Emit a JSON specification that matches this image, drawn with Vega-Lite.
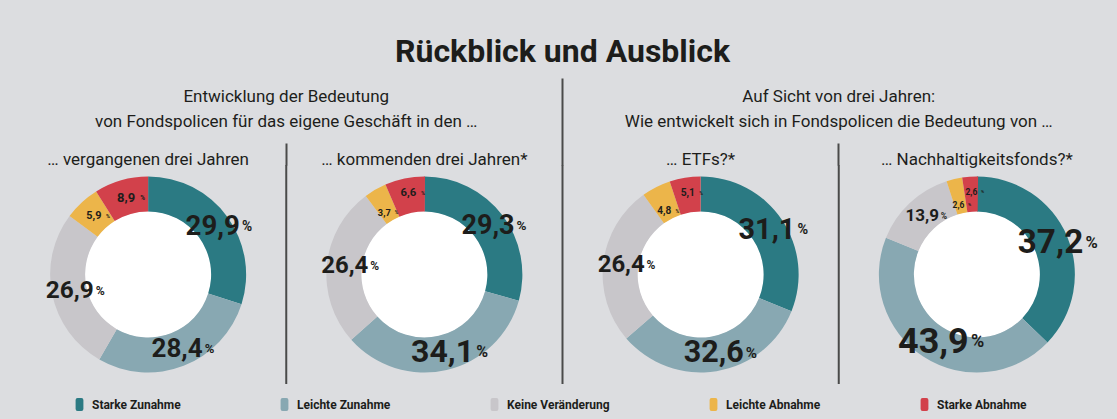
{
  "$schema": "https://vega.github.io/schema/vega-lite/v6.json",
  "width": 1117,
  "height": 419,
  "autosize": {"type": "fit", "contains": "padding"},
  "padding": {"top": 36, "left": 10, "right": 2, "bottom": 8},
  "background": "#dcdde0",
  "config": {
    "view": {"stroke": null},
    "locale": {"number": {"decimal": ",", "thousands": ".", "grouping": [3], "currency": ["", " €"]}},
    "font": "Roboto"
  },
  "title": {
    "text": "Rückblick und Ausblick",
    "font": "Roboto",
    "fontSize": 32,
    "fontWeight": "bold",
    "color": "#1d1d1b",
    "anchor": "middle",
    "offset": 8
  },
  "datasets": {
    "shares": [
      {"chart": "… vergangenen drei Jahren", "cat": "Starke Zunahme", "k": 1, "value": 29.9},
      {"chart": "… vergangenen drei Jahren", "cat": "Leichte Zunahme", "k": 2, "value": 28.4},
      {"chart": "… vergangenen drei Jahren", "cat": "Keine Veränderung", "k": 3, "value": 26.9},
      {"chart": "… vergangenen drei Jahren", "cat": "Leichte Abnahme", "k": 4, "value": 5.9},
      {"chart": "… vergangenen drei Jahren", "cat": "Starke Abnahme", "k": 5, "value": 8.9},
      {"chart": "… kommenden drei Jahren*", "cat": "Starke Zunahme", "k": 1, "value": 29.3},
      {"chart": "… kommenden drei Jahren*", "cat": "Leichte Zunahme", "k": 2, "value": 34.1},
      {"chart": "… kommenden drei Jahren*", "cat": "Keine Veränderung", "k": 3, "value": 26.4},
      {"chart": "… kommenden drei Jahren*", "cat": "Leichte Abnahme", "k": 4, "value": 3.7},
      {"chart": "… kommenden drei Jahren*", "cat": "Starke Abnahme", "k": 5, "value": 6.6},
      {"chart": "… ETFs?*", "cat": "Starke Zunahme", "k": 1, "value": 31.1},
      {"chart": "… ETFs?*", "cat": "Leichte Zunahme", "k": 2, "value": 32.6},
      {"chart": "… ETFs?*", "cat": "Keine Veränderung", "k": 3, "value": 26.4},
      {"chart": "… ETFs?*", "cat": "Leichte Abnahme", "k": 4, "value": 4.8},
      {"chart": "… ETFs?*", "cat": "Starke Abnahme", "k": 5, "value": 5.1},
      {"chart": "… Nachhaltigkeitsfonds?*", "cat": "Starke Zunahme", "k": 1, "value": 37.2},
      {"chart": "… Nachhaltigkeitsfonds?*", "cat": "Leichte Zunahme", "k": 2, "value": 43.9},
      {"chart": "… Nachhaltigkeitsfonds?*", "cat": "Keine Veränderung", "k": 3, "value": 13.9},
      {"chart": "… Nachhaltigkeitsfonds?*", "cat": "Leichte Abnahme", "k": 4, "value": 2.6},
      {"chart": "… Nachhaltigkeitsfonds?*", "cat": "Starke Abnahme", "k": 5, "value": 2.6}
    ],
    "charts": [
      {"chart": "… vergangenen drei Jahren"},
      {"chart": "… kommenden drei Jahren*"},
      {"chart": "… ETFs?*"},
      {"chart": "… Nachhaltigkeitsfonds?*"}
    ],
    "separators": [
      {"chart": "… vergangenen drei Jahren"},
      {"chart": "… ETFs?*"}
    ],
    "groups": [
      {"group": "g1"}
    ]
  },
  "resolve": {"scale": {"x": "independent"}, "axis": {"x": "independent"}},
  "layer": [
    {
      "encoding": {
        "x": {"field": "chart", "type": "nominal", "sort": null,
          "scale": {"type": "band", "domain": ["… vergangenen drei Jahren", "… kommenden drei Jahren*", "… ETFs?*", "… Nachhaltigkeitsfonds?*"], "paddingInner": 0, "paddingOuter": 0},
          "axis": {"orient": "top", "title": null, "domain": false, "ticks": false, "grid": false, "labelAngle": 0, "labelFont": "Roboto", "labelFontSize": 17, "labelColor": "#1d1d1b", "labelPadding": -3, "labelLimit": 0, "labelOverlap": false}}
      },
      "layer": [
        {
          "data": {"name": "charts"},
          "mark": {"type": "point", "shape": "circle", "size": 16000, "filled": true, "fill": "#ffffff", "opacity": 1, "strokeWidth": 0}
        },
        {
          "data": {"name": "shares"},
          "transform": [{"stack": "value", "groupby": ["chart"], "sort": [{"field": "k", "order": "ascending"}], "as": ["v0", "v1"]}],
          "mark": {"type": "arc", "innerRadius": 63, "outerRadius": 98, "stroke": null},
          "encoding": {
            "theta": {"field": "v0", "type": "quantitative", "scale": {"domain": [0, 100]}},
            "theta2": {"field": "v1"},
            "color": {"field": "cat", "type": "nominal",
              "scale": {"domain": ["Starke Zunahme", "Leichte Zunahme", "Keine Veränderung", "Leichte Abnahme", "Starke Abnahme"],
                        "range": ["#2b7a83", "#88a8b2", "#c8c6ca", "#ecb54a", "#d2414b"]},
              "legend": {"orient": "bottom", "direction": "horizontal", "title": " ", "titleOrient": "left", "titlePadding": 63,
                "symbolType": "M-0.6,-0.7Q-0.6,-1 -0.3,-1H0.3Q0.6,-1 0.6,-0.7V0.7Q0.6,1 0.3,1H-0.3Q-0.6,1 -0.6,0.7Z", "symbolSize": 169, "symbolStrokeWidth": 0,
                "labelFont": "Roboto", "labelFontSize": 12, "labelFontWeight": "bold", "labelColor": "#1d1d1b",
                "columnPadding": 97, "offset": 14, "labelOffset": 6}}
          }
        },
        {
          "data": {"name": "shares"},
          "mark": {"type": "text", "font": "Roboto", "fontWeight": "bold", "color": "#1d1d1b", "align": "center", "baseline": "middle",
            "dy": {"expr": "datum.k == 4 && datum.value < 5 ? 8 : (datum.k == 5 && datum.value < 7 ? -3 : 0)"}},
          "encoding": {
            "theta": {"field": "value", "type": "quantitative", "stack": true},
            "radius": {"field": "chart", "type": "nominal", "scale": {"type": "point", "range": [80, 80]}},
            "order": {"field": "k", "type": "quantitative"},
            "text": {"field": "value", "type": "quantitative", "format": ".1f"},
            "size": {"field": "value", "type": "quantitative", "scale": {"domain": [2.6, 8.9, 13.9, 26.5, 34, 44], "range": [8.5, 13, 17, 24, 32, 36]}, "legend": null}
          }
        },
        {
          "data": {"name": "shares"},
          "mark": {"type": "text", "font": "Roboto", "fontWeight": "bold", "color": "#1d1d1b", "align": "left", "baseline": "middle",
            "fontSize": {"expr": "scale('size', datum.value) * 0.5"},
            "dx": {"expr": "scale('size', datum.value) * 1.02 + 1"},
            "dy": {"expr": "datum.k == 4 && datum.value < 5 ? 8 : (datum.k == 5 && datum.value < 7 ? -3 : 0)"}},
          "encoding": {
            "theta": {"field": "value", "type": "quantitative", "stack": true},
            "radius": {"field": "chart", "type": "nominal", "scale": {"type": "point", "range": [80, 80]}},
            "order": {"field": "k", "type": "quantitative"},
            "text": {"value": "%"}
          }
        }
      ]
    },
    {
      "data": {"name": "groups"},
      "mark": {"type": "rule", "color": "#4a4a4a", "strokeWidth": 2},
      "encoding": {
        "x": {"field": "group", "type": "nominal", "bandPosition": 1,
          "scale": {"type": "band", "domain": ["g1", "g2"], "paddingInner": 0, "paddingOuter": 0},
          "axis": {"orient": "top", "title": null, "domain": false, "ticks": false, "grid": false, "labelAngle": 0,
            "labelFont": "Roboto", "labelFontSize": 17, "labelLineHeight": 25, "labelColor": "#1d1d1b",
            "labelPadding": 0, "offset": 60, "labelLimit": 0, "labelOverlap": false,
            "labelExpr": "datum.value == 'g1' ? ['Entwicklung der Bedeutung', 'von Fondspolicen für das eigene Geschäft in den …'] : ['Auf Sicht von drei Jahren:', 'Wie entwickelt sich in Fondspolicen die Bedeutung von …']"}
        }
      }
    },
    {
      "data": {"name": "separators"},
      "mark": {"type": "rule", "color": "#4a4a4a", "strokeWidth": 2},
      "encoding": {
        "x": {"field": "chart", "type": "nominal", "sort": null, "bandPosition": 1,
          "scale": {"type": "band", "domain": ["… vergangenen drei Jahren", "… kommenden drei Jahren*", "… ETFs?*", "… Nachhaltigkeitsfonds?*"], "paddingInner": 0, "paddingOuter": 0},
          "axis": {"orient": "top", "title": null, "domain": false, "labels": false, "grid": false, "ticks": true,
            "bandPosition": 0, "tickColor": "#4a4a4a", "tickWidth": 2,
            "tickSize": {"condition": {"test": "datum.value == '… ETFs?*'", "value": 87}, "value": 22},
            "tickOpacity": {"condition": {"test": "datum.value == '… vergangenen drei Jahren'", "value": 0}, "value": 1}}
        }
      }
    }
  ]
}
